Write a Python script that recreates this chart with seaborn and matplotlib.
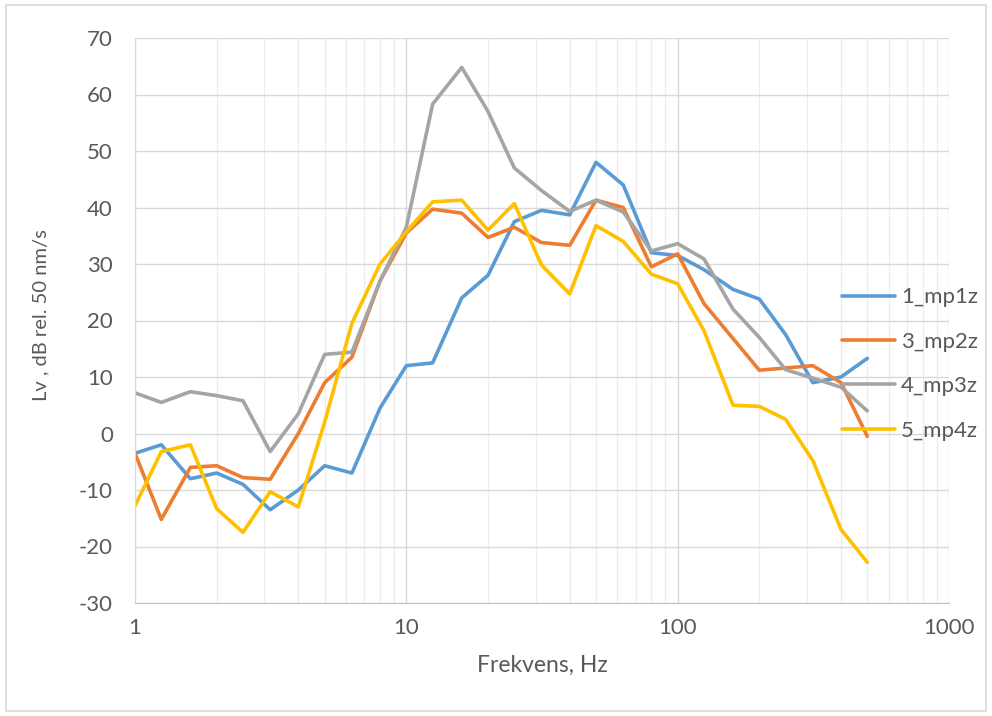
import numpy as np
import pandas as pd
import matplotlib
matplotlib.use('Agg')
import matplotlib.pyplot as plt
import seaborn as sns
from matplotlib.ticker import LogLocator, FixedLocator, NullFormatter
from matplotlib.patches import Rectangle

# third-octave band centre frequencies, Hz
freq = [1, 1.25, 1.6, 2, 2.5, 3.15, 4, 5, 6.3, 8, 10, 12.5, 16, 20, 25, 31.5,
        40, 50, 63, 80, 100, 125, 160, 200, 250, 315, 400, 500]

mp1z = [-3.5, -2, -8, -7, -9, -13.5, -10, -5.7, -7, 4.5, 12, 12.5, 24, 28,
        37.5, 39.5, 38.7, 48, 44, 32, 31.5, 29, 25.5, 23.8, 17.5, 9, 10, 13.3]
mp2z = [-3.5, -15.2, -6, -5.7, -7.8, -8.1, 0, 9, 13.5, 27, 35.5, 39.7, 39,
        34.7, 36.5, 33.8, 33.3, 41.3, 40, 29.5, 31.8, 23, 16.8, 11.2, 11.6, 12,
        9, -0.5]
mp3z = [7.2, 5.5, 7.4, 6.7, 5.8, -3.2, 3.5, 14, 14.4, 27, 36.5, 58.3, 64.8,
        57, 47, 43, 39.3, 41.3, 39.2, 32.3, 33.6, 30.9, 22, 17, 11.3, 9.8, 8.2,
        4]
mp4z = [-12.8, -3.2, -2, -13.3, -17.5, -10.3, -13, 2, 19.5, 30, 35.7, 41,
        41.3, 36, 40.7, 29.8, 24.7, 36.8, 34, 28.2, 26.5, 18.2, 5, 4.8, 2.5,
        -4.8, -17, -22.8]

series = {'1_mp1z': mp1z, '3_mp2z': mp2z, '4_mp3z': mp3z, '5_mp4z': mp4z}
colors = ['#5B9BD5', '#ED7D31', '#A5A5A5', '#FFC000']

frames = []
for name, vals in series.items():
    frames.append(pd.DataFrame({'freq': freq, 'Lv': vals, 'serie': name}))
df = pd.concat(frames, ignore_index=True)

sns.set_style('white')
plt.rcParams['font.family'] = ['Lato', 'DejaVu Sans']
plt.rcParams['axes.unicode_minus'] = False
txt = '#595959'

fig = plt.figure(figsize=(9.92, 7.16), dpi=100)
ax = fig.add_axes([135/992, 1 - 603/716, (949 - 135)/992, (603 - 38)/716])

sns.lineplot(data=df, x='freq', y='Lv', hue='serie', palette=colors,
             linewidth=2.6, ax=ax, legend=True)

ax.set_xscale('log')
ax.set_xlim(1, 1000)
ax.set_ylim(-30, 70)
ax.yaxis.set_major_locator(FixedLocator(np.arange(-30, 71, 10)))
ax.xaxis.set_major_locator(FixedLocator([1, 10, 100, 1000]))
ax.xaxis.set_minor_locator(LogLocator(base=10, subs=np.arange(2, 10)))
ax.xaxis.set_minor_formatter(NullFormatter())
ax.set_xticklabels(['1', '10', '100', '1000'])

ax.grid(True, which='major', axis='both', color='#D9D9D9', linewidth=1.0)
ax.grid(True, which='minor', axis='x', color='#EDEDED', linewidth=0.9)
ax.set_axisbelow(True)
for s in ['top', 'right']:
    ax.spines[s].set_visible(False)
ax.spines['left'].set_color('#D9D9D9')
ax.spines['bottom'].set_color('#BFBFBF')
ax.tick_params(which='both', length=0, labelsize=16, colors=txt)
ax.tick_params(axis='y', pad=16)
ax.tick_params(axis='x', pad=11)

ax.set_xlabel('Frekvens, Hz', fontsize=16.5, color=txt, labelpad=12)
ax.set_ylabel('Lv , dB rel. 50 nm/s', fontsize=14.5, color=txt)
ax.yaxis.set_label_coords(-0.105, 0.51)

handles, labels = ax.get_legend_handles_labels()
ax.legend(handles, labels, loc='center left', bbox_to_anchor=(842/992, 1 - 364/716),
          bbox_transform=fig.transFigure, frameon=False, fontsize=16,
          borderpad=0, borderaxespad=0,
          handlelength=2.4, handletextpad=0.25, labelspacing=1.1, labelcolor=txt)

# chart area border
fig.patches.append(Rectangle((6/992, 5/716), 980/992, 706/716, transform=fig.transFigure,
                             fill=False, edgecolor='#D9D9D9', linewidth=1.2))

fig.savefig('out.png', dpi=100)
